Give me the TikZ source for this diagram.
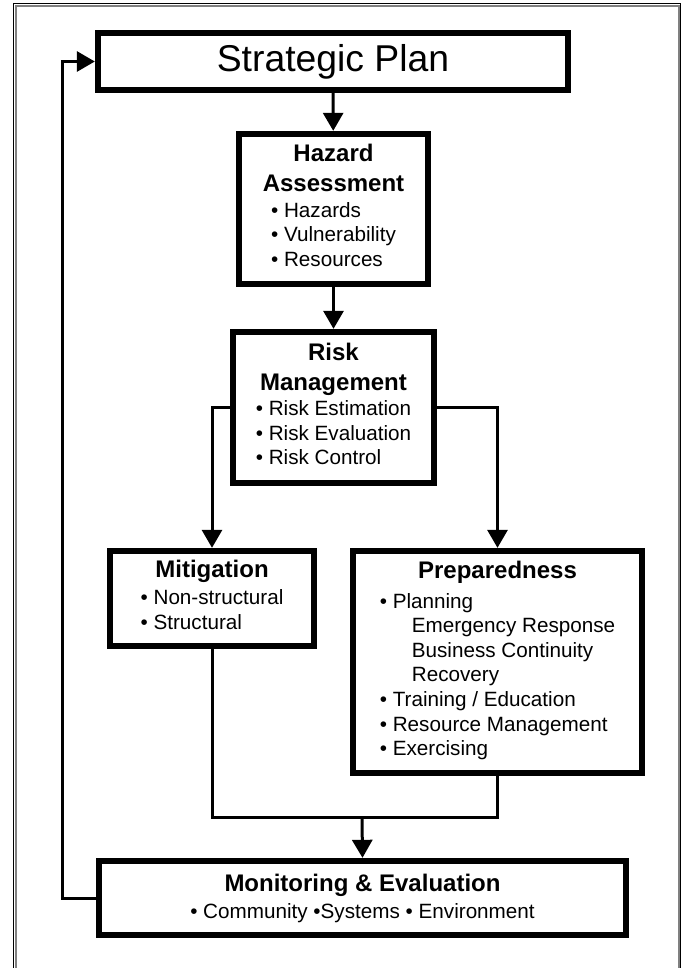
\documentclass[tikz,border=0pt]{standalone}
\usepackage{fontspec}
\setmainfont{Liberation Sans}
\usetikzlibrary{arrows.meta}

\tikzset{every picture/.style={line width=0.75pt}}
\tikzset{
  stagebox/.style={draw, line width=4.75pt, align=center, inner sep=0pt,
    font=\fontsize{15.5}{18.4}\selectfont},
  link/.style={line width=2.25pt},
  linkarrow/.style={link, -{Triangle[length=13.5pt,width=15pt]}}
}
\newcommand{\stagetitle}[1]{{\fontsize{18}{22.5}\selectfont\bfseries #1}}
\newcommand{\bul}{\textbullet\ }

\begin{document}
\begin{tikzpicture}[x=0.75pt,y=0.75pt,yscale=-1,xscale=1]
        \useasboundingbox (0,0) rectangle (682,968);
        \draw   (13.5,980) -- (13.5,3.5) -- (680.5,3.5) -- (680.5,980) ;
        \draw [gray, line width=1.5pt]  (15.5,980) -- (15.5,5.5) -- (678.5,5.5) -- (678.5,980) ;

        \node [stagebox, minimum width=352.5pt, minimum height=42.75pt] (plan) at (333,61.5) {\fontsize{28}{30}\selectfont Strategic Plan};
        \node [stagebox, minimum width=141.75pt, minimum height=112.5pt] (hazard) at (333.5,209) {\stagetitle{Hazard}\\[4.1pt] \stagetitle{Assessment}\\[1pt] \begin{tabular}[t]{@{}l@{}}\bul Hazards\\ \bul Vulnerability\\ \bul Resources\end{tabular}};
        \node [stagebox, minimum width=150.75pt, minimum height=113.25pt] (risk) at (333.5,407.5) {\stagetitle{Risk}\\[4.1pt] \stagetitle{Management}\\[1pt] \begin{tabular}[t]{@{}l@{}}\bul Risk Estimation\\ \bul Risk Evaluation\\ \bul Risk Control\end{tabular}};
        \node [stagebox, minimum width=153pt, minimum height=71.25pt] (mitig) at (212,598.5) {\stagetitle{Mitigation}\\[1.5pt] \begin{tabular}[t]{@{}l@{}}\bul Non-structural\\ \bul Structural\end{tabular}};
        \node [stagebox, minimum width=216.75pt, minimum height=166.5pt] (prep) at (497.5,662) {\stagetitle{Preparedness}\\[4pt] \begin{tabular}[t]{@{}l@{}}\bul Planning\\ \hspace*{1.55em}Emergency Response\\ \hspace*{1.55em}Business Continuity\\ \hspace*{1.55em}Recovery\\ \bul Training / Education\\ \bul Resource Management\\ \bul Exercising\end{tabular}};
        \node [stagebox, minimum width=395.25pt, minimum height=55.5pt] (monitor) at (362.5,898) {\stagetitle{Monitoring \& Evaluation}\\[1.8pt] \textbullet\ Community \textbullet Systems \textbullet\ Environment};

        \coordinate (merge) at (362,817);
        \coordinate (loopback) at (62,61.5);

        \draw [linkarrow] (plan) -- (hazard);
        \draw [linkarrow] (hazard) -- (risk);
        \draw [linkarrow] (risk.west) -| (mitig.north);
        \draw [linkarrow] (risk.east) -| (prep.north);
        \draw [link] (mitig.south) |- (merge) -| (prep.south);
        \draw [linkarrow] (merge) -- (monitor.north);
        \draw [linkarrow] (monitor.west) -| (loopback) -- (plan.west);
    \end{tikzpicture}
\end{document}
